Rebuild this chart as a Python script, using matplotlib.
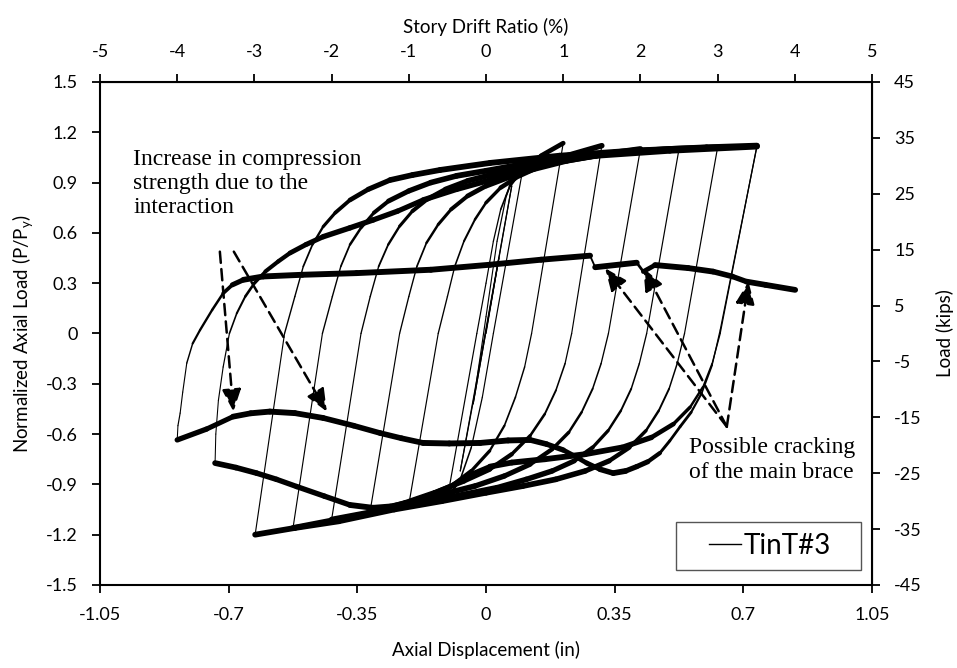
import matplotlib
matplotlib.use('Agg')
import matplotlib.pyplot as plt
import numpy as np
from matplotlib.collections import LineCollection
from matplotlib.lines import Line2D
from matplotlib.patches import Rectangle

plt.rcParams['font.family'] = ['Lato', 'DejaVu Sans']
plt.rcParams['mathtext.fontset'] = 'custom'
plt.rcParams['mathtext.rm'] = 'Lato'
plt.rcParams['axes.unicode_minus'] = False

# hysteresis record, one cycle at a time (axial displacement in, P/Py)
c0_x = [0.0, 0.035, -0.035, 0.07, -0.07, -0.03, 0.0, 0.03, 0.055, 0.08, 0.105,
        0.02, -0.01, -0.04, -0.07, -0.105]
c0_y = [0.0, 0.45, -0.42, 0.88, -0.82, -0.35, 0.1, 0.55, 0.82, 0.97, 1.04,
        0.0, -0.38, -0.68, -0.87, -0.98]

c1_x = [-0.025, 0.0, 0.02, 0.04, 0.065, 0.1, 0.15, 0.21,
        0.124, 0.105, 0.08, 0.05, 0.01, -0.04, -0.1, -0.16, -0.21]
c1_y = [0.0, 0.3, 0.55, 0.74, 0.88, 0.98, 1.06, 1.135,
        0.0, -0.2, -0.38, -0.55, -0.7, -0.82, -0.92, -0.98, -1.02]

c2_x = [-0.13, -0.105, -0.085, -0.06, -0.03, 0.0, 0.04, 0.09, 0.15, 0.22, 0.315,
        0.233, 0.215, 0.19, 0.16, 0.12, 0.07, 0.01, -0.06, -0.14, -0.22, -0.316]
c2_y = [0.0, 0.22, 0.40, 0.55, 0.68, 0.78, 0.87, 0.94, 1.0, 1.06, 1.12,
        0.0, -0.18, -0.34, -0.48, -0.61, -0.72, -0.81, -0.88, -0.95, -1.01, -1.07]

c3_x = [-0.235, -0.21, -0.188, -0.162, -0.13, -0.095, -0.05, 0.0, 0.06, 0.13, 0.22, 0.32, 0.42,
        0.333, 0.313, 0.29, 0.26, 0.225, 0.18, 0.12, 0.05, -0.03, -0.12, -0.25, -0.42]
c3_y = [0.0, 0.22, 0.40, 0.54, 0.65, 0.74, 0.82, 0.88, 0.93, 0.98, 1.03, 1.07, 1.10,
        0.0, -0.18, -0.33, -0.47, -0.59, -0.69, -0.78, -0.85, -0.91, -0.96, -1.04, -1.11]

c4_x = [-0.34, -0.315, -0.292, -0.266, -0.235, -0.2, -0.16, -0.11, -0.05, 0.02, 0.1, 0.2, 0.33, 0.43, 0.525,
        0.437, 0.417, 0.395, 0.367, 0.332, 0.29, 0.24, 0.18, 0.11, 0.03, -0.06, -0.2, -0.36, -0.525]
c4_y = [0.0, 0.22, 0.40, 0.53, 0.64, 0.73, 0.80, 0.86, 0.91, 0.95, 0.99, 1.03, 1.07, 1.09, 1.10,
        0.0, -0.18, -0.33, -0.46, -0.58, -0.68, -0.76, -0.82, -0.87, -0.92, -0.96, -1.02, -1.09, -1.16]

c5_x = [-0.445, -0.418, -0.395, -0.37, -0.34, -0.305, -0.265, -0.21, -0.15, -0.08, 0.0, 0.1, 0.22, 0.36,
        0.5, 0.63,
        0.54, 0.52, 0.498, 0.47, 0.435, 0.39, 0.335, 0.27, 0.19, 0.1, 0.0, -0.12, -0.25, -0.4, -0.52, -0.628]
c5_y = [0.0, 0.22, 0.40, 0.53, 0.63, 0.72, 0.79, 0.85, 0.90, 0.94, 0.97, 1.01, 1.05, 1.08,
        1.10, 1.11,
        0.0, -0.18, -0.33, -0.46, -0.58, -0.68, -0.76, -0.82, -0.87, -0.91, -0.95, -1.0, -1.05, -1.12, -1.16, -1.2]

c6_x = [-0.548, -0.52, -0.497, -0.472, -0.443, -0.41, -0.37, -0.32, -0.261, -0.2, -0.125, 0.011, 0.2,
        0.4, 0.6, 0.737,
        0.637, 0.615, 0.59, 0.555, 0.51, 0.45, 0.37, 0.27, 0.16, 0.07, 0.011, -0.05, -0.098, -0.16,
        -0.216, -0.26, -0.307, -0.37, -0.44, -0.515, -0.57, -0.624, -0.68, -0.737]
c6_y = [0.0, 0.22, 0.40, 0.53, 0.637, 0.72, 0.796, 0.86, 0.915, 0.945, 0.975, 1.017, 1.06,
        1.09, 1.11, 1.12,
        0.0, -0.18, -0.32, -0.44, -0.54, -0.62, -0.68, -0.72, -0.75, -0.77, -0.794, -0.85, -0.913, -0.97,
        -1.012, -1.032, -1.04, -1.023, -0.97, -0.913, -0.87, -0.833, -0.80, -0.773]

c7_x = [-0.735, -0.728, -0.715, -0.698, -0.678, -0.655, -0.63, -0.6, -0.565, -0.533, -0.49, -0.443,
        -0.37, -0.307, -0.24, -0.171, -0.08, 0.011, 0.08, 0.16, 0.3, 0.5, 0.737,
        0.637, 0.615, 0.587, 0.558, 0.528, 0.5, 0.473, 0.44, 0.41, 0.38, 0.346, 0.31, 0.274, 0.24,
        0.21, 0.165, 0.12, 0.06, -0.016, -0.1, -0.171, -0.23, -0.288, -0.36, -0.443, -0.52, -0.588,
        -0.64, -0.688, -0.76, -0.84]
c7_y = [-0.6, -0.4, -0.2, 0.0, 0.12, 0.22, 0.3, 0.37, 0.43, 0.48, 0.53, 0.577,
        0.63, 0.677, 0.73, 0.796, 0.86, 0.915, 0.96, 1.01, 1.06, 1.09, 1.115,
        0.02, -0.19, -0.355, -0.47, -0.556, -0.64, -0.713, -0.765, -0.794, -0.82, -0.833, -0.81, -0.773,
        -0.73, -0.695, -0.66, -0.635, -0.638, -0.653, -0.656, -0.653, -0.625, -0.594, -0.55, -0.504,
        -0.475, -0.466, -0.476, -0.496, -0.57, -0.635]

c8_x = [-0.838, -0.832, -0.825, -0.814, -0.798, -0.778, -0.745, -0.715, -0.69, -0.66, -0.606, -0.5,
        -0.352, -0.15, 0.011, 0.15, 0.283, 0.297, 0.41, 0.428, 0.46, 0.55, 0.618, 0.67, 0.709, 0.76,
        0.841]
c8_y = [-0.55, -0.475, -0.35, -0.177, -0.06, 0.02, 0.14, 0.24, 0.29, 0.32, 0.34, 0.35,
        0.36, 0.38, 0.41, 0.44, 0.464, 0.395, 0.422, 0.369, 0.408, 0.39, 0.369, 0.34, 0.309, 0.29,
        0.26]

cycles_x = [c0_x, c1_x, c2_x, c3_x, c4_x, c5_x, c6_x, c7_x, c8_x]
cycles_y = [c0_y, c1_y, c2_y, c3_y, c4_y, c5_y, c6_y, c7_y, c8_y]

# annotation arrows: tail -> tip
left_tail_x = [-0.724, -0.686]
left_tail_y = [0.488, 0.488]
left_tip_x = [-0.687, -0.433]
left_tip_y = [-0.466, -0.466]
right_tail = (0.655, -0.556)
right_tip_x = [0.324, 0.428, 0.714]
right_tip_y = [0.389, 0.389, 0.309]

x_ticks = [-1.05, -0.7, -0.35, 0, 0.35, 0.7, 1.05]
x_labels = ['-1.05', '-0.7', '-0.35', '0', '0.35', '0.7', '1.05']
y_ticks = [1.5, 1.2, 0.9, 0.6, 0.3, 0, -0.3, -0.6, -0.9, -1.2, -1.5]
y_labels = ['1.5', '1.2', '0.9', '0.6', '0.3', '0', '-0.3', '-0.6', '-0.9', '-1.2', '-1.5']
drift_ticks = list(range(-5, 6))
kip_ticks = list(range(-45, 46, 10))
Py = 30.0        # kips
in_per_pct = 0.21

fig = plt.figure(figsize=(9.57, 6.68), dpi=100)
ax = fig.add_axes([0.1045, 0.1243, 0.8067, 0.7530])
ax.set_xlim(-1.05, 1.05)
ax.set_ylim(-1.5, 1.5)

x = np.concatenate(cycles_x)
y = np.concatenate(cycles_y)
pts = np.column_stack([x, y])
segs = np.stack([pts[:-1], pts[1:]], axis=1)
# flat stretches of the record are noisy, so they read thicker than the steep ones
d = ax.transData.transform(pts)
dx, dy = np.diff(d[:, 0]), np.diff(d[:, 1])
h = np.abs(dx) / np.hypot(dx, dy)
lc = LineCollection(segs, colors='black', linewidths=0.75 + 3.5 * h ** 2,
                    capstyle='round', joinstyle='round')
ax.add_collection(lc)

ax.set_xticks(x_ticks)
ax.set_xticklabels(x_labels)
ax.set_yticks(y_ticks)
ax.set_yticklabels(y_labels)
for s in ax.spines.values():
    s.set_linewidth(1.5)
tick_kw = dict(direction='out', length=6, width=1.3, labelsize=13, pad=10)
ax.tick_params(**tick_kw)
ax.set_xlabel('Axial Displacement (in)', fontsize=13.5, labelpad=13)
ax.set_ylabel('Normalized Axial Load (P/P$_\\mathrm{y}$)', fontsize=13.5, labelpad=7)

top = ax.secondary_xaxis('top', functions=(lambda v: v / in_per_pct, lambda v: v * in_per_pct))
top.set_xticks(drift_ticks)
top.tick_params(**tick_kw)
top.set_xlabel('Story Drift Ratio (%)', fontsize=13.5, labelpad=8)

right = ax.secondary_yaxis('right', functions=(lambda v: v * Py, lambda v: v / Py))
right.set_yticks(kip_ticks)
right.tick_params(**tick_kw)
right.set_ylabel('Load (kips)', fontsize=13.5, labelpad=10)

dash = dict(arrowstyle='-|>,head_length=0.8,head_width=0.34', color='black', lw=1.8,
            linestyle=(0, (4.5, 2.5)), mutation_scale=17, shrinkA=0, shrinkB=0)
for tx, ty, px, py in zip(left_tail_x, left_tail_y, left_tip_x, left_tip_y):
    ax.annotate('', xy=(px, py), xytext=(tx, ty), arrowprops=dash)
for px, py in zip(right_tip_x, right_tip_y):
    ax.annotate('', xy=(px, py), xytext=right_tail, arrowprops=dash)

serif = dict(family='Liberation Serif', fontsize=17, va='top', ha='left')
ax.text(-0.96, 1.10, 'Increase in compression\nstrength due to the\ninteraction', **serif)
ax.text(0.553, -0.62, 'Possible cracking\nof the main brace', **serif)

ax.add_patch(Rectangle((0.7457, 0.0298), 0.2397, 0.096, transform=ax.transAxes,
                       fill=False, edgecolor='#555555', lw=1.0))
ax.legend(handles=[Line2D([0], [0], color='black', lw=1.0)], labels=['TinT#3'],
          loc='center', bbox_to_anchor=(0.868, 0.0777), frameon=False, fontsize=20,
          handlelength=1.15, handletextpad=0.1, borderpad=0)

fig.savefig('out.png', dpi=100)
